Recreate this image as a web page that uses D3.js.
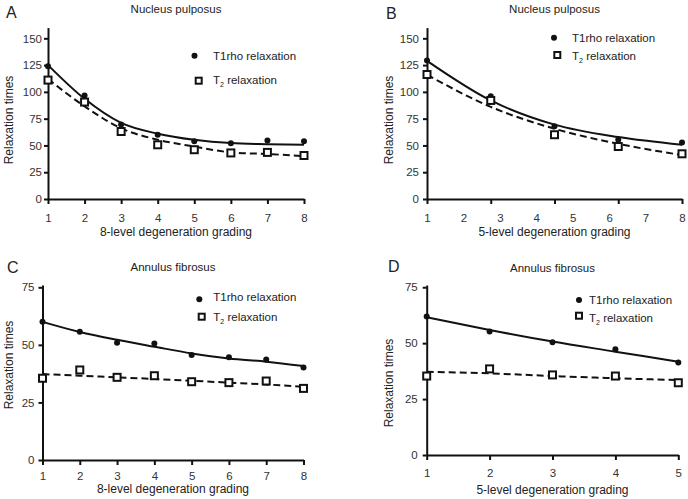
<!DOCTYPE html>
<html>
<head>
<meta charset="utf-8">
<script src="https://cdn.jsdelivr.net/npm/d3@7/dist/d3.min.js"></script>
<style>
  body { margin: 0; background: #fff; }
  svg { display: block; font-family: "Liberation Sans", Arial, sans-serif; }
  .tick text { font-size: 11.5px; fill: #333; }
  .domain, .tick line { stroke: #111; stroke-width: 2px; }
</style>
</head>
<body>
<svg id="chart" width="688" height="499"></svg>
<script>
// ===== data =====
const grades8 = [1, 2, 3, 4, 5, 6, 7, 8];
const grades5 = [1, 2, 3, 4, 5];
const yTicksNP = [0, 25, 50, 75, 100, 125, 150];
const yTicksAF = [0, 25, 50, 75];
const tickLabelsB = [1, 2, 3, 4, 5, 6, 7, 8];

// A: nucleus pulposus, 8-level
const t1rhoA = [124, 96.5, 69.5, 60, 53.8, 52, 54.6, 53.8];
const t2A = [111, 90.5, 63, 50.6, 46, 43, 43.5, 40.6];
const fitT1rhoA = [125, 93.5, 71, 61, 55.3, 52.2, 51.2, 50.6];
const fitT2A = [112, 86.5, 66, 55.3, 49, 43.5, 42, 40];

// B: nucleus pulposus, 5-level
const t1rhoB = [129.4, 95.9, 67.8, 55.3, 52.8];
const t2B = [116.2, 92, 60, 49, 42.2];
const fitT1rhoB = [129, 92, 69.4, 57.8, 50.6];
const fitT2B = [116, 86, 65.6, 51.5, 41];

// C: annulus fibrosus, 8-level
const t1rhoC = [60, 55.7, 50.9, 50.6, 45.6, 44.6, 43.7, 40.2];
const t2C = [35.5, 39.1, 35.9, 36.6, 34, 33.6, 34.3, 31.1];
const fitT1rhoC = [60, 55.6, 52.2, 49.2, 46.3, 44.1, 42.7, 40.8];
const fitT2C = [37.3, 36.6, 35.9, 35.2, 34.4, 33.6, 32.8, 31.8];

// D: annulus fibrosus, 5-level
const t1rhoD = [61.9, 55.2, 50.4, 47.3, 41.3];
const t2D = [35.3, 38.5, 35.8, 35.3, 32.3];
const fitT1rhoD = [61.6, 55.9, 50.7, 46.2, 41.7];
const fitT2D = [37.2, 36.5, 35.3, 34.3, 33.5];

const svg = d3.select('#chart');

function drawPanel(p) {
  const g = svg.append('g');
  const x = d3.scaleLinear().domain(d3.extent(p.grades)).range([p.x0, p.x1]);
  const y = d3.scaleLinear().domain([0, p.yMax]).range([p.y0, p.y1]);

  // panel letter + title
  g.append('text').attr('x', p.letterX).attr('y', p.letterY)
    .style('font-size', '16px').style('fill', '#222').text(p.letter);
  g.append('text').attr('x', (p.x0 + p.x1) / 2).attr('y', p.titleY)
    .attr('text-anchor', 'middle').style('font-size', '11.5px').style('fill', '#222')
    .text(p.title);

  // axes
  g.append('g').attr('transform', `translate(${p.x0},0)`)
    .call(d3.axisLeft(y).tickValues(p.yTicks).tickSize(4).tickPadding(p.yPad).tickSizeOuter(0));

  const xAxis = g.append('g').attr('transform', `translate(0,${p.y0})`);
  if (p.labels) {
    // tick marks at the data grades, labels spread 1..8 as in the figure
    xAxis.call(d3.axisBottom(x).tickValues(p.grades).tickSize(5).tickFormat('').tickSizeOuter(0));
    const xl = d3.scaleLinear().domain(d3.extent(p.labels)).range([p.x0, p.x1]);
    const lab = g.append('g').attr('transform', `translate(0,${p.y0})`)
      .call(d3.axisBottom(xl).tickValues(p.labels).tickFormat(d3.format('d'))
        .tickSize(0).tickPadding(p.xPad + 5).tickSizeOuter(0));
    lab.select('.domain').remove();
  } else {
    xAxis.call(d3.axisBottom(x).tickValues(p.grades).tickFormat(d3.format('d'))
      .tickSize(5).tickPadding(p.xPad).tickSizeOuter(0));
  }

  // axis titles
  g.append('text').attr('x', (p.x0 + p.x1) / 2).attr('y', p.xTitleY)
    .attr('text-anchor', 'middle').style('font-size', '12px').style('fill', '#222')
    .text(p.xTitle);
  g.append('text')
    .attr('transform', `translate(${p.yTitleX},${p.yTitleCY}) rotate(-90)`)
    .attr('text-anchor', 'middle').style('font-size', '12px').style('fill', '#222')
    .text('Relaxation times');

  // fit curves
  const line = d3.line().x((d, i) => x(p.grades[i])).y(d => y(d)).curve(d3.curveMonotoneX);
  g.append('path').datum(p.fitT1rho).attr('d', line)
    .attr('fill', 'none').attr('stroke', '#111').attr('stroke-width', 2);
  g.append('path').datum(p.fitT2).attr('d', line)
    .attr('fill', 'none').attr('stroke', '#111').attr('stroke-width', 2)
    .attr('stroke-dasharray', '7,4');

  // points
  g.selectAll('.dot').data(p.t1rho).enter().append('circle')
    .attr('cx', (d, i) => x(p.grades[i])).attr('cy', d => y(d))
    .attr('r', 3).attr('fill', '#111');
  g.selectAll('.sq').data(p.t2).enter().append('rect')
    .attr('x', (d, i) => x(p.grades[i]) - 3.5).attr('y', d => y(d) - 3.5)
    .attr('width', 7).attr('height', 7)
    .attr('fill', '#fff').attr('stroke', '#111').attr('stroke-width', 2);

  // legend
  const lg = g.append('g');
  lg.append('circle').attr('cx', p.leg.dotX).attr('cy', p.leg.dotY).attr('r', 3).attr('fill', '#111');
  lg.append('text').attr('x', p.leg.textX).attr('y', p.leg.t1Y)
    .style('font-size', '11.5px').style('fill', '#222').text('T1rho relaxation');
  lg.append('rect').attr('x', p.leg.sqX - 3).attr('y', p.leg.sqY - 3)
    .attr('width', 6).attr('height', 6)
    .attr('fill', '#fff').attr('stroke', '#111').attr('stroke-width', 2);
  const t2 = lg.append('text').attr('x', p.leg.textX).attr('y', p.leg.t2Y)
    .style('font-size', '11.5px').style('fill', '#222');
  t2.append('tspan').text('T');
  t2.append('tspan').attr('dy', 3).style('font-size', '7px').text('2');
  t2.append('tspan').attr('dy', -3).text(' relaxation');
}

drawPanel({
  letter: 'A', letterX: 6, letterY: 18, title: 'Nucleus pulposus', titleY: 13,
  grades: grades8, t1rho: t1rhoA, t2: t2A, fitT1rho: fitT1rhoA, fitT2: fitT2A,
  x0: 48, x1: 304, y0: 199, y1: 27.6, yMax: 160, yTicks: yTicksNP, yPad: 2, xPad: 10,
  xTitle: '8-level degeneration grading', xTitleY: 236, yTitleX: 13, yTitleCY: 120,
  leg: { dotX: 194.5, dotY: 55.7, sqX: 198.7, sqY: 80.7, textX: 213, t1Y: 60, t2Y: 84 }
});

drawPanel({
  letter: 'B', letterX: 386, letterY: 19, title: 'Nucleus pulposus', titleY: 13,
  grades: grades5, labels: tickLabelsB, t1rho: t1rhoB, t2: t2B, fitT1rho: fitT1rhoB, fitT2: fitT2B,
  x0: 427, x1: 682, y0: 199, y1: 27.6, yMax: 160, yTicks: yTicksNP, yPad: 4, xPad: 10,
  xTitle: '5-level degeneration grading', xTitleY: 236, yTitleX: 393, yTitleCY: 120,
  leg: { dotX: 554, dotY: 37.7, sqX: 557.3, sqY: 55, textX: 572, t1Y: 41.5, t2Y: 60 }
});

drawPanel({
  letter: 'C', letterX: 7, letterY: 273, title: 'Annulus fibrosus', titleY: 271,
  grades: grades8, t1rho: t1rhoC, t2: t2C, fitT1rho: fitT1rhoC, fitT2: fitT2C,
  x0: 42.5, x1: 303.5, y0: 460, y1: 285, yMax: 76, yTicks: yTicksAF, yPad: 4, xPad: 7,
  xTitle: '8-level degeneration grading', xTitleY: 493, yTitleX: 13, yTitleCY: 365,
  leg: { dotX: 199.3, dotY: 299.3, sqX: 201.7, sqY: 316.7, textX: 213.3, t1Y: 300.5, t2Y: 321 }
});

drawPanel({
  letter: 'D', letterX: 388, letterY: 272, title: 'Annulus fibrosus', titleY: 272,
  grades: grades5, t1rho: t1rhoD, t2: t2D, fitT1rho: fitT1rhoD, fitT2: fitT2D,
  x0: 426.7, x1: 678.3, y0: 455, y1: 285, yMax: 76, yTicks: yTicksAF, yPad: 5, xPad: 9,
  xTitle: '5-level degeneration grading', xTitleY: 494, yTitleX: 393, yTitleCY: 383,
  leg: { dotX: 579, dotY: 300, sqX: 579, sqY: 315.7, textX: 589, t1Y: 303.5, t2Y: 322 }
});
</script>
</body>
</html>
